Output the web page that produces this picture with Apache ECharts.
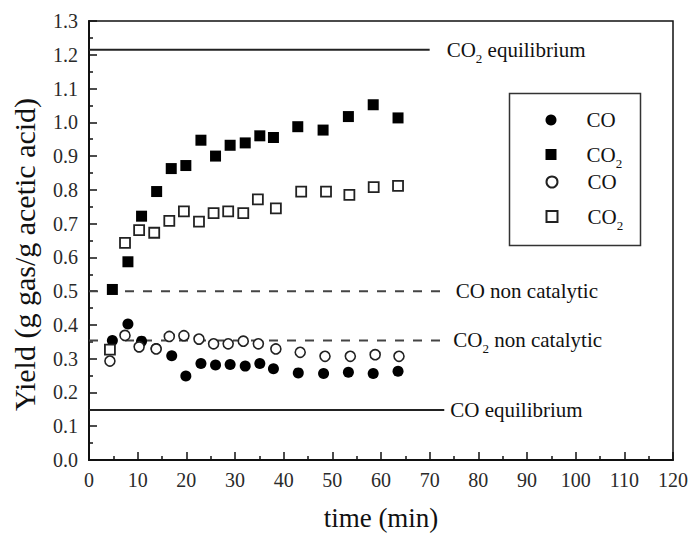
<!DOCTYPE html>
<html>
<head>
<meta charset="utf-8">
<script src="https://cdn.jsdelivr.net/npm/echarts@6/dist/echarts.min.js"></script>
<style>
  html, body { margin: 0; padding: 0; background: #fff; }
  #chart { width: 692px; height: 536px; }
</style>
</head>
<body>
<div id="chart"></div>
<script>
// Gas yields from acetic acid reforming over time
const timeCatalyticCO = [4.8, 8.0, 10.8, 13.8, 17.0, 19.9, 23.0, 26.0, 29.0, 32.1, 35.1, 37.9, 43.0, 48.2, 53.3, 58.4, 63.5];
const yieldCatalyticCO = [0.354, 0.403, 0.352, 0.330, 0.309, 0.249, 0.286, 0.281, 0.283, 0.278, 0.286, 0.270, 0.258, 0.256, 0.260, 0.256, 0.263];

const timeCatalyticCO2 = [4.8, 8.0, 10.8, 13.9, 16.9, 19.9, 23.0, 26.0, 29.0, 32.1, 35.1, 37.9, 42.9, 48.1, 53.3, 58.4, 63.5];
const yieldCatalyticCO2 = [0.505, 0.587, 0.722, 0.795, 0.863, 0.872, 0.947, 0.900, 0.932, 0.939, 0.960, 0.955, 0.987, 0.977, 1.017, 1.052, 1.013];

const timeSecondCO = [4.3, 7.4, 10.3, 13.8, 16.5, 19.5, 22.6, 25.6, 28.6, 31.7, 34.8, 38.4, 43.4, 48.5, 53.7, 58.8, 63.7];
const yieldSecondCO = [0.293, 0.369, 0.335, 0.329, 0.366, 0.368, 0.358, 0.344, 0.344, 0.352, 0.344, 0.329, 0.319, 0.307, 0.307, 0.312, 0.307];

const timeSecondCO2 = [4.3, 7.4, 10.3, 13.4, 16.5, 19.5, 22.6, 25.6, 28.6, 31.7, 34.7, 38.4, 43.6, 48.7, 53.5, 58.5, 63.5];
const yieldSecondCO2 = [0.327, 0.643, 0.681, 0.673, 0.708, 0.736, 0.706, 0.731, 0.736, 0.731, 0.772, 0.745, 0.795, 0.795, 0.785, 0.808, 0.812];

// Reference levels: [value, end time]
const co2Equilibrium = [1.215, 70];
const coNonCatalytic = [0.50, 73.5];
const co2NonCatalytic = [0.354, 73];
const coEquilibrium = [0.148, 73];

const xTicks = { min: 0, max: 120, step: 10 };
const yTicks = { min: 0, max: 1.3, step: 0.1 };

const seriesNames = ['CO run A', 'CO2 run A', 'CO run B', 'CO2 run B'];

const FONT = '"Liberation Serif", "DejaVu Serif", serif';
const INK = '#111';

function pairs(xs, ys) { return xs.map((x, i) => [x, ys[i]]); }

const richText = {
  m: { fontFamily: FONT, fontSize: 21, color: INK, lineHeight: 24 },
  p: { fontFamily: FONT, fontSize: 21, color: INK, lineHeight: 24, padding: [0, 0, 0, 25] },
  s: { fontFamily: FONT, fontSize: 13, color: INK, lineHeight: 24, padding: [17, 0, 0, 0] }
};

function refLine(name, level, label, dashed, gap) {
  return {
    name: name,
    type: 'line',
    data: [[0, level[0]], [level[1], level[0]]],
    symbol: 'none',
    silent: true,
    lineStyle: { color: dashed ? '#444' : '#222', width: 2, type: dashed ? [9, 9] : 'solid' },
    endLabel: { show: true, formatter: label, distance: gap, rich: richText },
    z: 1
  };
}

// one legend row per series, stacked inside a framed box
const legendRowCenters = [121.5, 151.5, 183.5, 213.5];
const legends = seriesNames.map((n, i) => ({
  orient: 'vertical', left: 545.5, top: legendRowCenters[i] - 12,
  padding: 0, itemWidth: 11, itemHeight: 11,
  data: [n],
  formatter: name => name.indexOf('CO2') === 0 ? '{p|CO}{s|2}' : '{p|CO}',
  textStyle: { rich: richText }
}));

const chart = echarts.init(document.getElementById('chart'), null, { renderer: 'svg' });

chart.setOption({
  animation: false,
  backgroundColor: '#fff',
  grid: { left: 89, right: 19, top: 21, bottom: 73, show: true, borderColor: INK, borderWidth: 1.5, backgroundColor: 'transparent' },
  graphic: [{
    type: 'rect', left: 507, top: 91, silent: true,
    shape: { width: 131, height: 152 },
    style: { fill: 'none', stroke: '#333', lineWidth: 1.5 }
  }],
  xAxis: {
    type: 'value', min: xTicks.min, max: xTicks.max, interval: xTicks.step,
    name: 'time (min)', nameLocation: 'middle', nameGap: 44,
    nameTextStyle: { fontFamily: FONT, fontSize: 27, color: INK },
    axisLine: { show: true, lineStyle: { color: INK, width: 2 } },
    axisTick: { show: true, inside: true, length: 8, lineStyle: { color: INK, width: 1.5 } },
    minorTick: { show: true, splitNumber: 2, length: 4, lineStyle: { color: INK, width: 1.5 } },
    axisLabel: { fontFamily: FONT, fontSize: 20, color: '#2a2a2a', margin: 10 },
    splitLine: { show: false }
  },
  yAxis: {
    type: 'value', min: yTicks.min, max: yTicks.max, interval: yTicks.step,
    name: 'Yield (g gas/g acetic acid)', nameLocation: 'middle', nameGap: 50,
    nameTextStyle: { fontFamily: FONT, fontSize: 30, color: INK, padding: [0, 28, 0, 0] },
    axisLine: { show: true, lineStyle: { color: INK, width: 2 } },
    axisTick: { show: true, inside: true, length: 8, lineStyle: { color: INK, width: 1.5 } },
    minorTick: { show: true, splitNumber: 2, length: 4, lineStyle: { color: INK, width: 1.5 } },
    axisLabel: { fontFamily: FONT, fontSize: 20, color: '#2a2a2a', margin: 11, formatter: v => v.toFixed(1) },
    splitLine: { show: false }
  },
  legend: legends,
  series: [
    refLine('co2 eq', co2Equilibrium, '{m|CO}{s|2}{m| equilibrium}', false, 17),
    refLine('co noncat', coNonCatalytic, '{m|CO non catalytic}', true, 9),
    refLine('co2 noncat', co2NonCatalytic, '{m|CO}{s|2}{m| non catalytic}', true, 9),
    refLine('co eq', coEquilibrium, '{m|CO equilibrium}', false, 6),
    {
      name: seriesNames[0], type: 'scatter', symbol: 'circle', symbolSize: 11,
      itemStyle: { color: '#000', opacity: 1 }, data: pairs(timeCatalyticCO, yieldCatalyticCO), z: 3
    },
    {
      name: seriesNames[1], type: 'scatter', symbol: 'rect', symbolSize: 11,
      itemStyle: { color: '#000', opacity: 1 }, data: pairs(timeCatalyticCO2, yieldCatalyticCO2), z: 3
    },
    {
      name: seriesNames[2], type: 'scatter', symbol: 'circle', symbolSize: 10,
      itemStyle: { color: '#fff', borderColor: '#222', borderWidth: 1.6, opacity: 1 }, data: pairs(timeSecondCO, yieldSecondCO), z: 4
    },
    {
      name: seriesNames[3], type: 'scatter', symbol: 'rect', symbolSize: 10,
      itemStyle: { color: '#fff', borderColor: '#222', borderWidth: 1.8, opacity: 1 }, data: pairs(timeSecondCO2, yieldSecondCO2), z: 4
    }
  ]
});
</script>
</body>
</html>
